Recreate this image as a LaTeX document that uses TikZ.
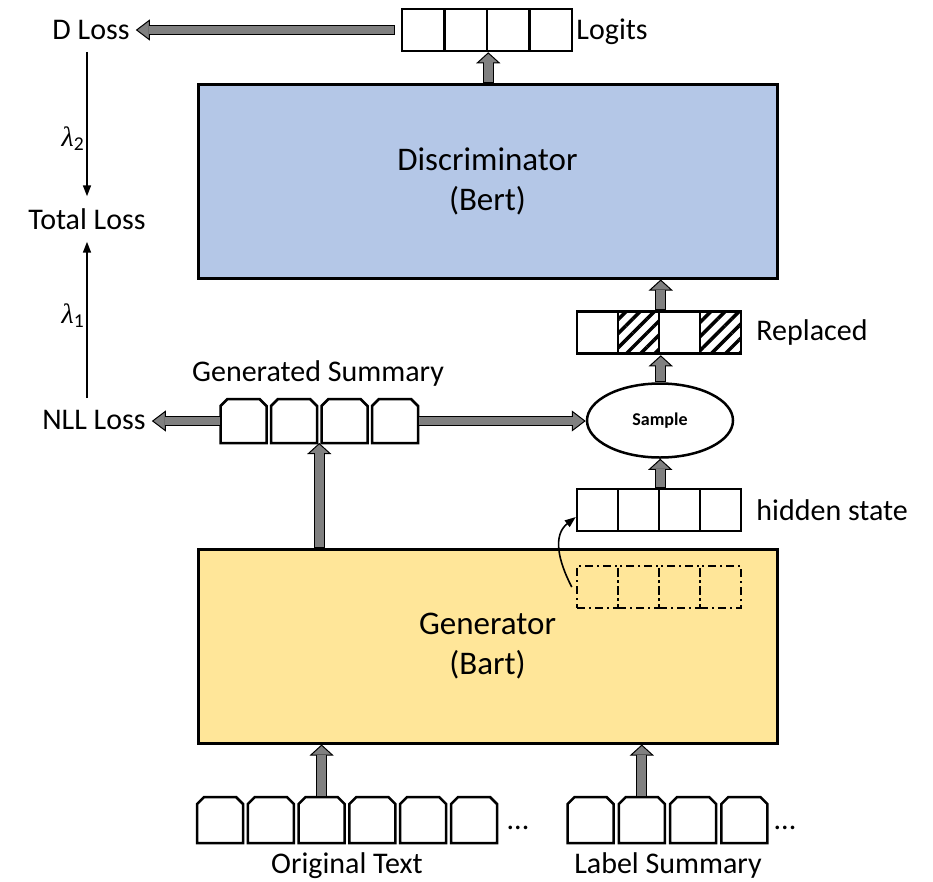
\documentclass[tikz,border=0pt]{standalone}
\usepackage{fontspec}
\setmainfont{Carlito}
\newfontfamily\lambdafont{Liberation Serif}
\usepackage{tikz}
\usetikzlibrary{arrows.meta,calc,positioning,shapes.geometric,patterns.meta}
\definecolor{discblue}{RGB}{180,199,231}
\definecolor{genyellow}{RGB}{255,230,153}
\definecolor{arrowgrey}{RGB}{128,128,128}
\tikzset{
  model/.style={draw=black,line width=3pt,inner sep=0pt,align=center,
    minimum width=579pt,minimum height=194pt,font=\fontsize{33}{40}\selectfont},
  cell/.style={draw=black,line width=2.5pt,minimum width=41pt,minimum height=42pt,
    inner sep=0pt},
  ghostcell/.style={cell,dash pattern=on 8pt off 4pt on 2pt off 4pt},
  hatched/.style={cell,pattern={Lines[angle=45,distance=10pt,line width=3.5pt]}},
  token/.style={rectangle,inner sep=0pt,outer sep=0pt,minimum width=46pt,minimum height=46pt},
  tokenline/.style={draw=black,line width=2.5pt,line join=miter},
  lbl/.style={font=\fontsize{30}{36}\selectfont,inner sep=3pt},
  loss/.style={lbl,inner xsep=6pt,inner ysep=12pt},
  weight/.style={left,inner sep=2pt,font=\fontsize{28}{34}\selectfont},
  fatarrow/.style={draw=black,line width=11pt,
    -{Triangle[length=11pt,width=24pt,line width=1pt,fill=arrowgrey]},
    postaction={draw=arrowgrey,line width=9pt,-,shorten >=10pt,shorten <=1pt}},
  flatarrow/.style={draw=black,line width=10pt,
    -{Triangle[length=14pt,width=21pt,line width=1pt,fill=arrowgrey]},
    postaction={draw=arrowgrey,line width=8pt,-,shorten >=13pt,shorten <=1pt}},
  thinarrow/.style={-{Triangle[length=11pt,width=8pt]},line width=1.6pt}
}
\newcommand\tokenbox[1]{%
  \draw[tokenline] (#1.south west) -- ([yshift=-7pt]#1.north west)
    -- ([xshift=7pt]#1.north west) -- ([xshift=-7pt]#1.north east)
    -- ([yshift=-7pt]#1.north east) -- (#1.south east) -- cycle;}
\newcommand\lambdaw[1]{{\lambdafont\itshape λ}\textsubscript{#1}}
\begin{document}
\begin{tikzpicture}[x=1pt,y=-1pt]
  \useasboundingbox (0,0) rectangle (933,881);
  % the two models
  \node[model,fill=discblue] (disc) at (487.5,181) {Discriminator\\(Bert)};
  \node[model,fill=genyellow] (gen) at (487.5,646) {Generator\\(Bart)};

  % vectors
  \foreach \i in {1,...,4}
    \node[cell,minimum width=42.5pt] (l\i) at (402+42.5*\i-21.25,30) {};
  \foreach \i/\s in {1/cell,2/hatched,3/cell,4/hatched}
    \node[\s] (r\i) at (556.5+41*\i,332.5) {};
  \foreach \i in {1,...,4} {
    \node[cell] (h\i) at (556.5+41*\i,510) {};
    \node[ghostcell] (d\i) at (556.5+41*\i,587) {};
  }
  \node[lbl,right=0pt of l4,yshift=-2pt] (logits) {Logits};
  \node[lbl,right=11pt of r4] (replaced) {Replaced};
  \node[lbl,right=11pt of h4] (hidden) {hidden state};

  % token rows
  \foreach \i in {1,...,4} {
    \node[token,minimum height=44pt] (g\i) at (243.5+50.5*\i-50.5,421) {};
    \tokenbox{g\i}
  }
  \foreach \i in {1,...,6} {
    \node[token] (o\i) at (220+50.8*\i-50.8,820) {};
    \tokenbox{o\i}
  }
  \foreach \i in {1,...,4} {
    \node[token] (s\i) at (590.5+51.3*\i-51.3,820) {};
    \tokenbox{s\i}
  }
  \node[lbl] (odots) at (518,828) {...};
  \node[lbl] (sdots) at (785,828) {...};
  \node[lbl,anchor=base] (gentext) at (318,381) {Generated Summary};
  \node[lbl,anchor=base] (origtext) at (347,873) {Original Text};
  \node[lbl,anchor=base] (labeltext) at (668,873) {Label Summary};

  % sampling
  \node[ellipse,draw=black,line width=2.5pt,minimum width=146pt,minimum height=74pt,
    inner sep=0pt,font=\bfseries\fontsize{18}{22}\selectfont] (sample) at (660,420.5) {Sample};

  % losses
  \node[loss] (dloss) at (91,30) {D Loss};
  \node[loss] (total) at (87,219) {Total Loss};
  \node[loss] (nll) at (94,420) {NLL Loss};
  \draw[thinarrow] (dloss.south -| total.north) -- (total.north)
    node[pos=.6,weight] {\lambdaw{2}};
  \draw[thinarrow] (nll.north -| total.south) -- (total.south)
    node[pos=.53,weight] {\lambdaw{1}};

  % grey arrows
  \coordinate (gsin) at ($(g2.south east)!.5!(g3.south west)$);
  \draw[fatarrow] (disc.north -| l2.east) -- (l2.south east);
  \draw[flatarrow] ([xshift=-6pt]l1.west) -- (dloss.east |- l1.west);
  \draw[fatarrow] (r2.north east) -- (r2.north east |- disc.south);
  \draw[fatarrow] (sample.north -| r2.south east) -- (r2.south east);
  \draw[fatarrow] (h2.north east) -- (h2.north east |- sample.south);
  \draw[flatarrow] (g1.west) -- (nll.east |- g1.west);
  \draw[flatarrow] (g4.east) -- (sample.west |- g4.east);
  \draw[fatarrow] (gen.north -| gsin) -- (gsin);
  \draw[fatarrow] (o3.north) -- (o3.north |- gen.south);
  \draw[fatarrow] (s2.north) -- (s2.north |- gen.south);

  \draw[thinarrow] ([xshift=-4pt]d1.west) .. controls +(-14,-27) and +(-23,18)
    .. ([yshift=-7pt]h1.west);
\end{tikzpicture}
\end{document}
